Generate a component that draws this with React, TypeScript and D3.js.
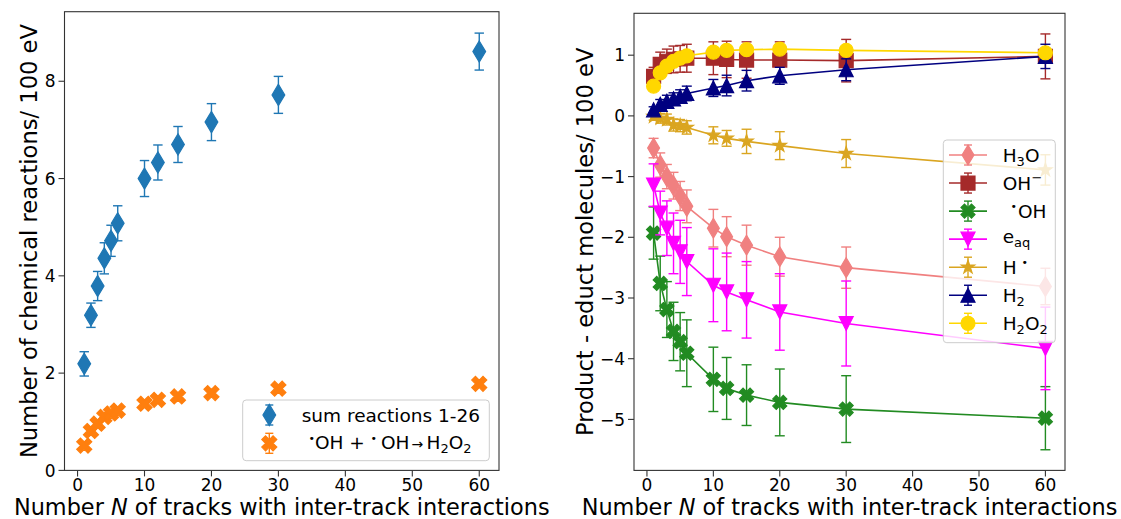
import React from 'react';
import * as d3 from 'd3';

// ---------- data ----------
const N = [1, 2, 3, 4, 5, 6, 10, 12, 15, 20, 30, 60];

const sumReactions = [2.19, 3.19, 3.79, 4.36, 4.72, 5.08, 6.0, 6.33, 6.7, 7.16, 7.72, 8.61];
const sumReactionsErr = [0.25, 0.25, 0.3, 0.32, 0.32, 0.36, 0.37, 0.36, 0.37, 0.38, 0.38, 0.38];
const ohRecombination = [0.51, 0.81, 0.96, 1.1, 1.17, 1.23, 1.37, 1.45, 1.52, 1.59, 1.68, 1.78];
const ohRecombinationErr = [0.05, 0.06, 0.06, 0.06, 0.06, 0.06, 0.07, 0.07, 0.07, 0.07, 0.07, 0.07];

const h3o = [-0.53, -0.81, -1.0, -1.15, -1.32, -1.49, -1.85, -1.99, -2.13, -2.32, -2.5, -2.81];
const h3oErr = [0.16, 0.2, 0.2, 0.22, 0.24, 0.27, 0.31, 0.33, 0.33, 0.32, 0.34, 0.3];
const ohMinus = [0.65, 0.85, 0.9, 0.93, 0.94, 0.95, 0.95, 0.93, 0.92, 0.92, 0.91, 0.98];
const ohMinusErr = [0.15, 0.2, 0.2, 0.22, 0.22, 0.23, 0.27, 0.3, 0.3, 0.3, 0.35, 0.37];
const ohRadical = [-1.93, -2.76, -3.19, -3.55, -3.72, -3.91, -4.34, -4.49, -4.6, -4.72, -4.83, -4.98];
const ohRadicalErr = [0.43, 0.45, 0.46, 0.48, 0.48, 0.55, 0.53, 0.51, 0.5, 0.55, 0.55, 0.52];
const eAq = [-1.14, -1.6, -1.85, -2.1, -2.24, -2.4, -2.79, -2.9, -3.03, -3.23, -3.42, -3.83];
const eAqErr = [0.35, 0.36, 0.45, 0.5, 0.52, 0.56, 0.6, 0.64, 0.63, 0.63, 0.7, 0.68];
const hRadical = [-0.01, -0.04, -0.06, -0.15, -0.16, -0.19, -0.32, -0.37, -0.42, -0.49, -0.62, -0.89];
const hRadicalErr = [0.06, 0.08, 0.09, 0.1, 0.1, 0.11, 0.14, 0.13, 0.2, 0.23, 0.23, 0.25];
const h2 = [0.1, 0.19, 0.24, 0.28, 0.32, 0.37, 0.46, 0.5, 0.58, 0.66, 0.76, 0.98];
const h2Err = [0.05, 0.08, 0.1, 0.1, 0.11, 0.12, 0.14, 0.17, 0.17, 0.14, 0.18, 0.2];
const h2o2 = [0.49, 0.71, 0.82, 0.9, 0.95, 0.99, 1.05, 1.08, 1.09, 1.1, 1.08, 1.04];
const h2o2Err = [0.05, 0.05, 0.05, 0.05, 0.05, 0.05, 0.05, 0.05, 0.05, 0.05, 0.05, 0.05];

const xTicks = [0, 10, 20, 30, 40, 50, 60];
const leftYTicks = [0, 2, 4, 6, 8];
const rightYTicks = [-5, -4, -3, -2, -1, 0, 1];

const xLabel = 'of tracks with inter-track interactions';
const leftYLabel = 'Number of chemical reactions/ 100 eV';
const rightYLabel = 'Product - educt molecules/ 100 eV';

type Series = { key: string; values: number[]; errors: number[]; color: string; marker: string };

const leftSeries: Series[] = [
  { key: 'sum', values: sumReactions, errors: sumReactionsErr, color: '#1f77b4', marker: 'd' },
  { key: 'ohoh', values: ohRecombination, errors: ohRecombinationErr, color: '#ff7f0e', marker: 'X' },
];

const rightSeries: Series[] = [
  { key: 'H3O', values: h3o, errors: h3oErr, color: '#f08080', marker: 'd' },
  { key: 'OH-', values: ohMinus, errors: ohMinusErr, color: '#a52a2a', marker: 's' },
  { key: 'OHr', values: ohRadical, errors: ohRadicalErr, color: '#228b22', marker: 'X' },
  { key: 'eaq', values: eAq, errors: eAqErr, color: '#ff00ff', marker: 'v' },
  { key: 'Hr', values: hRadical, errors: hRadicalErr, color: '#daa520', marker: '*' },
  { key: 'H2', values: h2, errors: h2Err, color: '#000080', marker: '^' },
  { key: 'H2O2', values: h2o2, errors: h2o2Err, color: '#ffd700', marker: 'o' },
];

// ---------- helpers ----------
const FONT = 'DejaVu Sans';

function markerPath(kind: string, m: number): string {
  const h = m / 2;
  switch (kind) {
    case 'o': {
      const p = d3.path();
      p.arc(0, 0, h, 0, Math.PI * 2);
      p.closePath();
      return p.toString();
    }
    case 's':
      return `M${-h},${-h}H${h}V${h}H${-h}Z`;
    case '^':
      return `M0,${-h}L${h},${h}L${-h},${h}Z`;
    case 'v':
      return `M0,${h}L${h},${-h}L${-h},${-h}Z`;
    case 'd': {
      const a = m * Math.SQRT1_2;
      return `M0,${-a}L${0.6 * a},0L0,${a}L${-0.6 * a},0Z`;
    }
    case 'X': {
      const pts = [[-1, -2], [0, -1], [1, -2], [2, -1], [1, 0], [2, 1], [1, 2], [0, 1], [-1, 2], [-2, 1], [-1, 0], [-2, -1]];
      return 'M' + pts.map(([x, y]) => `${(x / 4) * m},${(y / 4) * m}`).join('L') + 'Z';
    }
    case '*': {
      const pts: string[] = [];
      for (let i = 0; i < 10; i++) {
        const r = i % 2 === 0 ? h : h * 0.381966;
        const a = -Math.PI / 2 + (i * Math.PI) / 5;
        pts.push(`${r * Math.cos(a)},${r * Math.sin(a)}`);
      }
      return 'M' + pts.join('L') + 'Z';
    }
  }
  return '';
}

type Frame = { left: number; right: number; top: number; bottom: number };

function Axes({ frame, xs, ys, yTicks, yLabel, yLabelX }: { frame: Frame; xs: d3.ScaleLinear<number, number>; ys: d3.ScaleLinear<number, number>; yTicks: number[]; yLabel: string; yLabelX: number }) {
  const fmt = (v: number) => (v < 0 ? '\u2212' + Math.abs(v) : String(v));
  const cx = (frame.left + frame.right) / 2;
  const cy = (frame.top + frame.bottom) / 2;
  return (
    <g fontFamily={FONT} fill="#000">
      <rect x={frame.left} y={frame.top} width={frame.right - frame.left} height={frame.bottom - frame.top} fill="none" stroke="#333" strokeWidth={1.1} />
      {xTicks.map((t) => (
        <g key={'x' + t}>
          <line x1={xs(t)} x2={xs(t)} y1={frame.bottom} y2={frame.bottom + 6} stroke="#333" strokeWidth={1.1} />
          <text x={xs(t)} y={frame.bottom + 20.2} fontSize={17} textAnchor="middle">{fmt(t)}</text>
        </g>
      ))}
      {yTicks.map((t) => (
        <g key={'y' + t}>
          <line x1={frame.left - 6} x2={frame.left} y1={ys(t)} y2={ys(t)} stroke="#333" strokeWidth={1.1} />
          <text x={frame.left - 9} y={ys(t)} dy="0.36em" fontSize={17} textAnchor="end">{fmt(t)}</text>
        </g>
      ))}
      <text x={cx} y={514.5} fontSize={22.4} textAnchor="middle">
        Number <tspan fontStyle="italic">N</tspan> {xLabel}
      </text>
      <text transform={`translate(${yLabelX},${cy}) rotate(-90)`} fontSize={22.6} textAnchor="middle">{yLabel}</text>
    </g>
  );
}

function ErrorSeries({ s, xs, ys, m, withLine, cap }: { s: Series; xs: d3.ScaleLinear<number, number>; ys: d3.ScaleLinear<number, number>; m: number; withLine: boolean; cap: number }) {
  const line = d3.line<number>().x((_, i) => xs(N[i])).y((v) => ys(v));
  const mp = markerPath(s.marker, m);
  return (
    <g>
      {s.values.map((v, i) => {
        const x = xs(N[i]);
        const y1 = ys(v - s.errors[i]);
        const y2 = ys(v + s.errors[i]);
        return (
          <g key={i} stroke={s.color} strokeWidth={1.4}>
            <line x1={x} x2={x} y1={y1} y2={y2} />
            <line x1={x - cap} x2={x + cap} y1={y1} y2={y1} />
            <line x1={x - cap} x2={x + cap} y1={y2} y2={y2} />
          </g>
        );
      })}
      {withLine && <path d={line(s.values) || ''} fill="none" stroke={s.color} strokeWidth={1.6} />}
      {s.values.map((v, i) => (
        <path key={'m' + i} d={mp} transform={`translate(${xs(N[i])},${ys(v)})`} fill={s.color} stroke={s.color} strokeWidth={1.2} />
      ))}
    </g>
  );
}

function LegendHandle({ s, x, y, m, withLine }: { s: Series; x: number; y: number; m: number; withLine: boolean }) {
  const eh = 10;
  return (
    <g stroke={s.color} strokeWidth={1.4}>
      {withLine && <line x1={x - 19} x2={x + 19} y1={y} y2={y} strokeWidth={1.6} />}
      <line x1={x} x2={x} y1={y - eh} y2={y + eh} />
      <line x1={x - 4} x2={x + 4} y1={y - eh} y2={y - eh} />
      <line x1={x - 4} x2={x + 4} y1={y + eh} y2={y + eh} />
      <path d={markerPath(s.marker, m)} transform={`translate(${x},${y})`} fill={s.color} strokeWidth={1.2} />
    </g>
  );
}

export default function App() {
  const leftFrame: Frame = { left: 64.5, right: 499, top: 11.7, bottom: 470.4 };
  const rightFrame: Frame = { left: 634, right: 1065, top: 13.3, bottom: 470.4 };

  const xL = d3.scaleLinear().domain([-1.95, 62.95]).range([leftFrame.left, leftFrame.right]);
  const yL = d3.scaleLinear().domain([0, 9.43]).range([leftFrame.bottom, leftFrame.top]);
  const xR = d3.scaleLinear().domain([-1.95, 62.95]).range([rightFrame.left, rightFrame.right]);
  const yR = d3.scaleLinear().domain([-5.84, 1.69]).range([rightFrame.bottom, rightFrame.top]);

  const rowY0 = 155;
  const rowDY = 28.05;
  const sub = { fontSize: 13, dy: 4 };

  return (
    <svg width={1121} height={519} style={{ position: 'absolute', left: 0, top: 0, background: '#fff' }}>
      <rect x={0} y={0} width={1121} height={519} fill="#fff" />
      {/* left panel */}
      <Axes frame={leftFrame} xs={xL} ys={yL} yTicks={leftYTicks} yLabel={leftYLabel} yLabelX={37} />
      {leftSeries.map((s) => (
        <ErrorSeries key={s.key} s={s} xs={xL} ys={yL} m={15} withLine={false} cap={4.7} />
      ))}
      <g fontFamily={FONT}>
        <rect x={242.7} y={400} width={246.6} height={60.7} rx={3.5} fill="#fff" fillOpacity={0.8} stroke="#ccc" strokeWidth={1} />
        <LegendHandle s={leftSeries[0]} x={269.3} y={415} m={15} withLine={false} />
        <LegendHandle s={leftSeries[1]} x={269.3} y={443.3} m={15} withLine={false} />
        <text x={301.7} y={422.3} fontSize={18.5}>sum reactions 1-26</text>
        <text y={449.3} fontSize={18.5}>
          <tspan x={308.5} dy={-7.5} fontSize={11}>•</tspan>
          <tspan x={315} dy={7.5}>OH + </tspan>
          <tspan x={370.5} dy={-7.5} fontSize={11}>•</tspan>
          <tspan x={381} dy={7.5}>OH</tspan>
          <tspan x={411.5} fontSize={14}>→</tspan>
          <tspan x={426.5}>H</tspan>
          <tspan fontSize={sub.fontSize} dy={sub.dy}>2</tspan>
          <tspan dy={-sub.dy}>O</tspan>
          <tspan fontSize={sub.fontSize} dy={sub.dy}>2</tspan>
        </text>
      </g>

      {/* right panel */}
      <Axes frame={rightFrame} xs={xR} ys={yR} yTicks={rightYTicks} yLabel={rightYLabel} yLabelX={593} />
      {rightSeries.map((s) => (
        <ErrorSeries key={s.key} s={s} xs={xR} ys={yR} m={14} withLine={true} cap={5} />
      ))}
      <g fontFamily={FONT}>
        <rect x={943.3} y={140} width={112} height={202.7} rx={3.5} fill="#fff" fillOpacity={0.8} stroke="#ccc" strokeWidth={1} />
        {rightSeries.map((s, i) => (
          <LegendHandle key={s.key} s={s} x={968} y={rowY0 + i * rowDY} m={14} withLine={true} />
        ))}
        <text x={1002.7} y={rowY0 + 6.5} fontSize={18.5}>
          H<tspan fontSize={sub.fontSize} dy={sub.dy}>3</tspan><tspan dy={-sub.dy}>O</tspan>
        </text>
        <text x={1002.7} y={rowY0 + rowDY + 6.5} fontSize={18.5}>
          OH<tspan x={1031.5} dy={-8} fontSize={13}>{'\u2212'}</tspan>
        </text>
        <text y={rowY0 + 2 * rowDY + 6.5} fontSize={18.5}>
          <tspan x={1010.5} dy={-7.5} fontSize={11}>•</tspan>
          <tspan x={1018} dy={7.5}>OH</tspan>
        </text>
        <text x={1002.7} y={rowY0 + 3 * rowDY + 4} fontSize={18.5}>
          e<tspan fontSize={sub.fontSize} dy={sub.dy}>aq</tspan>
        </text>
        <text y={rowY0 + 4 * rowDY + 6.5} fontSize={18.5}>
          <tspan x={1002.7}>H</tspan>
          <tspan x={1021.5} dy={-7.5} fontSize={11}>•</tspan>
        </text>
        <text x={1002.7} y={rowY0 + 5 * rowDY + 6.5} fontSize={18.5}>
          H<tspan fontSize={sub.fontSize} dy={sub.dy}>2</tspan>
        </text>
        <text x={1002.7} y={rowY0 + 6 * rowDY + 6.5} fontSize={18.5}>
          H<tspan fontSize={sub.fontSize} dy={sub.dy}>2</tspan><tspan dy={-sub.dy}>O</tspan><tspan fontSize={sub.fontSize} dy={sub.dy}>2</tspan>
        </text>
      </g>
    </svg>
  );
}
